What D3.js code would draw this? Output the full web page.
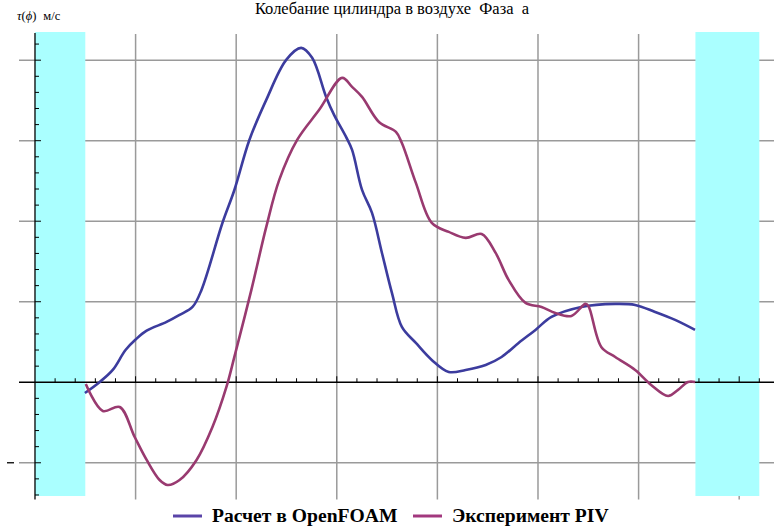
<!DOCTYPE html>
<html><head><meta charset="utf-8">
<script src="https://cdn.jsdelivr.net/npm/d3@7"></script>
<style>html,body{margin:0;padding:0;background:#fff;}svg{display:block;}</style>
</head><body>
<script>
// ---- data (phase units, velocity units) ----
const openfoamX = [0.496,0.644,0.773,0.900,1.000,1.110,1.308,1.437,1.566,1.655,1.863,1.982,2.131,2.299,2.497,2.646,2.755,2.894,2.973,3.092,3.152,3.251,3.350,3.449,3.548,3.647,3.786,3.944,4.113,4.281,4.480,4.638,4.807,4.975,5.134,5.431,5.768,5.966,6.164,6.363,6.561];
const openfoamY = [-0.133,0.004,0.153,0.400,0.530,0.640,0.749,0.836,0.935,1.147,1.978,2.388,3.009,3.507,4.004,4.153,4.029,3.544,3.321,3.047,2.886,2.389,2.103,1.606,1.109,0.687,0.488,0.277,0.128,0.153,0.215,0.314,0.488,0.650,0.811,0.935,0.973,0.960,0.873,0.774,0.650];
const pivX = [0.505,0.674,0.842,0.991,1.110,1.239,1.318,1.437,1.606,1.764,1.903,1.982,2.151,2.299,2.428,2.606,2.825,3.053,3.152,3.251,3.419,3.588,3.647,3.786,3.944,4.113,4.281,4.440,4.579,4.708,4.876,5.035,5.173,5.332,5.471,5.501,5.629,5.768,5.966,6.125,6.293,6.392,6.491,6.561];
const pivY = [-0.021,-0.357,-0.307,-0.680,-0.965,-1.214,-1.276,-1.214,-0.965,-0.556,-0.058,0.315,1.147,1.929,2.513,3.010,3.383,3.780,3.668,3.544,3.233,3.109,2.972,2.476,1.979,1.867,1.793,1.842,1.606,1.271,0.985,0.935,0.861,0.824,0.973,0.948,0.439,0.314,0.153,-0.033,-0.170,-0.095,0.004,0.004];
const bandStarts = [0.0, 6.565];
const bandEnds = [0.5, 7.2];
const xGridTicks = [1,2,3,4,5,6,7];
const yGridTicks = [-1,1,2,3,4];
const seriesNames = ["Расчет в OpenFOAM", "Эксперимент PIV"];
const titleText = "Колебание цилиндра в воздухе  Фаза  a";

const W = 782, H = 526;
const svg = d3.select("body").append("svg").attr("width", W).attr("height", H);

const x = d3.scaleLinear().domain([-0.15, 7.35]).range([19.9, 774.4]);
const y = d3.scaleLinear().domain([-1.45, 4.35]).range([499, 32]);

const gridColor = "#9a9a9a";
svg.append("g").selectAll("line").data(xGridTicks).join("line")
  .attr("x1", d => x(d)).attr("x2", d => x(d))
  .attr("y1", 34).attr("y2", 499.5)
  .attr("stroke", gridColor).attr("stroke-width", 1.5);
svg.append("g").selectAll("line").data(yGridTicks).join("line")
  .attr("x1", 19).attr("x2", 774)
  .attr("y1", d => y(d)).attr("y2", d => y(d))
  .attr("stroke", gridColor).attr("stroke-width", 1.5);

svg.append("g").selectAll("rect").data(bandStarts).join("rect")
  .attr("x", d => x(d)).attr("width", (d, i) => x(bandEnds[i]) - x(d))
  .attr("y", 32).attr("height", 496 - 32)
  .attr("fill", "#aaffff");

const axG = svg.append("g");
axG.append("line").attr("x1", 19).attr("x2", 774).attr("y1", y(0)).attr("y2", y(0))
  .attr("stroke", "#000").attr("stroke-width", 1.3);
axG.append("line").attr("x1", x(0)).attr("x2", x(0)).attr("y1", 33).attr("y2", 499.5)
  .attr("stroke", "#000").attr("stroke-width", 1.3);

const xMinor = d3.range(1, 37).map(i => i * 0.2);
axG.append("g").selectAll("line").data(xMinor).join("line")
  .attr("x1", d => x(d)).attr("x2", d => x(d))
  .attr("y1", y(0)).attr("y2", d => y(0) - (Math.abs(d - Math.round(d)) < 1e-6 ? 6 : 4))
  .attr("stroke", "#000").attr("stroke-width", 1);
const yMinor = d3.range(-7, 22).map(i => i * 0.2).filter(d => Math.abs(d) > 1e-6);
axG.append("g").selectAll("line").data(yMinor).join("line")
  .attr("y1", d => y(d)).attr("y2", d => y(d))
  .attr("x1", x(0)).attr("x2", d => x(0) + (Math.abs(d - Math.round(d)) < 1e-6 ? 6 : 4))
  .attr("stroke", "#000").attr("stroke-width", 1);

svg.append("line").attr("x1", 7).attr("x2", 14).attr("y1", y(-1)).attr("y2", y(-1))
  .attr("stroke", "#000").attr("stroke-width", 1.3);

const line = d3.line().x(d => x(d[0])).y(d => y(d[1])).curve(d3.curveCatmullRom.alpha(0.5));
const blue = "#3c3c9e", purple = "#993a70";
svg.append("path").datum(openfoamX.map((v, i) => [v, openfoamY[i]]))
  .attr("d", line).attr("fill", "none").attr("stroke", blue).attr("stroke-width", 2.6)
  .attr("stroke-linejoin", "round");
svg.append("path").datum(pivX.map((v, i) => [v, pivY[i]]))
  .attr("d", line).attr("fill", "none").attr("stroke", purple).attr("stroke-width", 2.6)
  .attr("stroke-linejoin", "round");

svg.append("text").attr("x", 392).attr("y", 14).attr("text-anchor", "middle")
  .style("white-space", "pre")
  .attr("font-family", "Liberation Serif, Times New Roman, serif").attr("font-size", 16.5)
  .attr("fill", "#000").text(titleText);

const yl = svg.append("text").attr("x", 17).attr("y", 20)
  .attr("font-family", "Liberation Serif, Times New Roman, serif").attr("font-size", 12.5).attr("fill", "#000");
yl.append("tspan").attr("font-style", "italic").text("τ");
yl.append("tspan").text("(");
yl.append("tspan").attr("font-style", "italic").text("ϕ");
yl.append("tspan").text(")");
yl.append("tspan").attr("dx", 7).text("м/с");

const legColors = ["#5a44a8", "#a2387e"];
const legX = [173, 413];
const lg = svg.append("g");
seriesNames.forEach((n, i) => {
  lg.append("line").attr("x1", legX[i]).attr("x2", legX[i] + 29).attr("y1", 516).attr("y2", 516)
    .attr("stroke", legColors[i]).attr("stroke-width", 3);
  lg.append("text").attr("x", legX[i] + 39).attr("y", 522)
    .attr("font-family", "Liberation Serif, Times New Roman, serif").attr("font-weight", "bold")
    .attr("font-size", 19.6).attr("fill", "#000").text(n);
});
</script>
</body></html>
